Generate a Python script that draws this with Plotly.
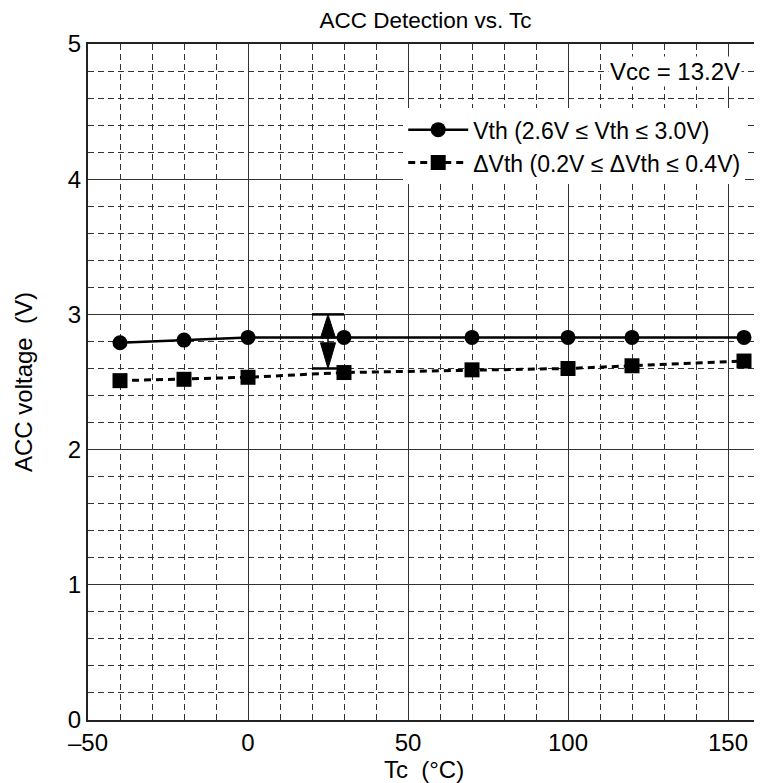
import plotly.graph_objects as go

# ---- data ----
tc = [-40, -20, 0, 30, 70, 100, 120, 155]
vth = [2.79, 2.81, 2.83, 2.83, 2.83, 2.83, 2.83, 2.83]
dvth = [2.51, 2.52, 2.535, 2.57, 2.59, 2.60, 2.62, 2.655]
x_ticks = [-50, 0, 50, 100, 150]
y_ticks = [0, 1, 2, 3, 4, 5]
range_low, range_high = 2.6, 3.0   # dimension marker bounds
range_x = 25

FONT = "Liberation Sans, Arial, sans-serif"
FS = 24

fig = go.Figure()
fig.add_trace(go.Scatter(
    x=tc, y=vth, mode="lines+markers",
    name="Vth (2.6V \u2264 Vth \u2264 3.0V)",
    line=dict(color="black", width=2.5),
    marker=dict(symbol="circle", size=15, color="black"),
))
fig.add_trace(go.Scatter(
    x=tc, y=dvth, mode="lines+markers",
    name="\u0394Vth (0.2V \u2264 \u0394Vth \u2264 0.4V)",
    line=dict(color="black", width=3, dash="7px,5px"),
    marker=dict(symbol="square", size=15, color="black"),
))

# dimension marker (arrows between 2.6 and 3.0)
hw = 2.35
mid_top = 2.825
mid_bot = 2.79
shapes = [
    dict(type="line", x0=range_x - 5, x1=range_x + 5, y0=range_high, y1=range_high,
         line=dict(color="black", width=2.5)),
    dict(type="line", x0=range_x - 5, x1=range_x + 5, y0=range_low, y1=range_low,
         line=dict(color="black", width=2.5)),
    dict(type="path",
         path=f"M {range_x-hw},{mid_top} L {range_x+hw},{mid_top} L {range_x},{range_high} Z",
         fillcolor="black", line=dict(color="black", width=1)),
    dict(type="path",
         path=f"M {range_x-hw},{mid_bot} L {range_x+hw},{mid_bot} L {range_x},{range_low} Z",
         fillcolor="black", line=dict(color="black", width=1)),
    dict(type="line", x0=range_x, x1=range_x, y0=mid_bot, y1=mid_top,
         line=dict(color="black", width=1.5)),
]
fig.update_layout(shapes=shapes)

fig.add_annotation(
    x=154.5, y=4.8, xref="x", yref="y", xanchor="right", yanchor="middle",
    text="Vcc = 13.2V", showarrow=False, bgcolor="white",
    font=dict(size=FS, color="black", family=FONT),
)

axis_common = dict(
    showline=True, linecolor="#222", linewidth=2, mirror=True,
    showgrid=True, gridcolor="#333", gridwidth=1,
    zeroline=False, ticks="", automargin=False,
    tickfont=dict(size=FS, color="black", family=FONT),
)
fig.update_xaxes(
    range=[-50, 160], tickvals=x_ticks,
    ticktext=[("\u2013" + str(-v)) if v < 0 else str(v) for v in x_ticks],
    minor=dict(dtick=10, tick0=0, showgrid=True, gridcolor="#333",
               griddash="6px,4px", gridwidth=1),
    title=dict(text="Tc  (\u00b0C)", font=dict(size=FS, color="black", family=FONT), standoff=0),
    **axis_common,
)
fig.update_yaxes(
    range=[0, 5], tickvals=y_ticks,
    minor=dict(dtick=0.2, tick0=0, showgrid=True, gridcolor="#333",
               griddash="6px,4px", gridwidth=1),
    title=dict(text="ACC voltage  (V)", font=dict(size=FS, color="black", family=FONT), standoff=28),
    **axis_common,
)

fig.update_layout(
    width=754, height=775,
    margin=dict(l=80, r=2, t=36, b=63),
    paper_bgcolor="white", plot_bgcolor="white",
    title=dict(text="ACC Detection vs. Tc", x=0.5537, xanchor="center",
               y=0.9845, yanchor="middle",
               font=dict(size=22.5, color="black", family=FONT)),
    legend=dict(
        x=0.978, y=0.905, xanchor="right", yanchor="top",
        bgcolor="white", borderwidth=0,
        font=dict(size=23, color="black", family=FONT),
        itemwidth=60, tracegroupgap=0,
    ),
    showlegend=True,
)

fig.write_html("out.html")
